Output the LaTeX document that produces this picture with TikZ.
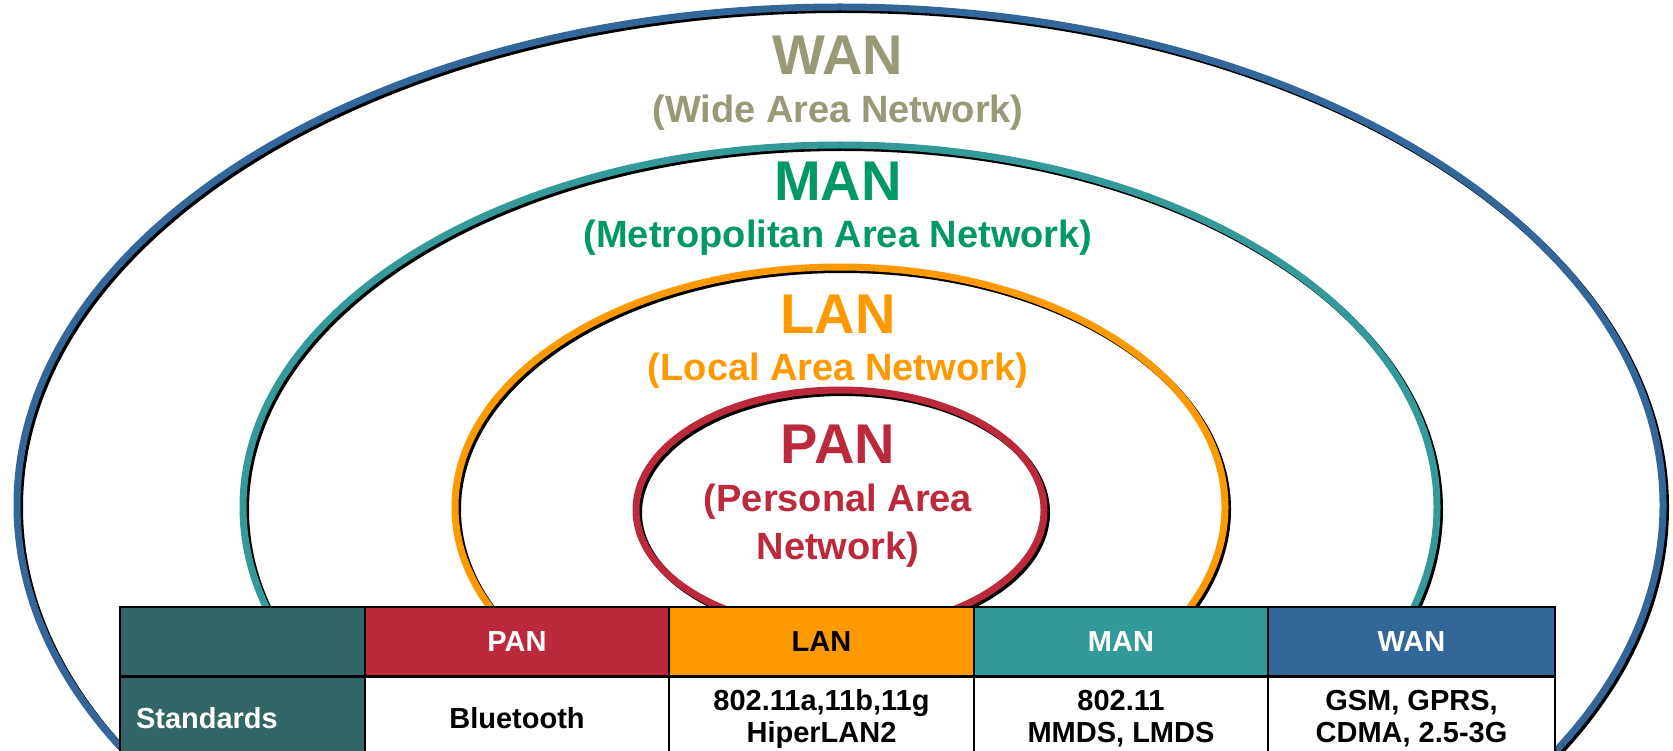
\documentclass[tikz,border=0pt]{standalone}
\usepackage{fontspec}
\setmainfont{Liberation Sans}
\usetikzlibrary{positioning}
\definecolor{wantxt}{RGB}{153,153,119}
\definecolor{mantxt}{RGB}{0,153,102}
\definecolor{lancol}{RGB}{255,153,0}
\definecolor{pancol}{RGB}{187,41,59}
\definecolor{mancol}{RGB}{51,153,153}
\definecolor{wancol}{RGB}{51,102,153}
\definecolor{stdcol}{RGB}{51,102,102}
\begin{document}
\begin{tikzpicture}[x=1pt,y=-1pt,
  cell/.style={draw=black, line width=1.5pt, inner sep=0pt, minimum height=69pt, align=center, font=\fontsize{29}{32}\selectfont\bfseries},
  nettitle/.style={font=\fontsize{56}{60}\selectfont\bfseries},
  netsub/.style={font=\fontsize{38}{48}\selectfont\bfseries, align=center}]
\clip (0,0) rectangle (1673,751);
\fill[white] (0,0) rectangle (1673,751);
% nested areas, black edge first
\foreach \rx/\ry/\cy/\col in {823/498/505/wancol, 597/362/507/mancol, 385/240/507/lancol, 204/120/510/pancol}
{
  \draw[black, line width=7pt] (842.5,\cy+2.5) ellipse [x radius=\rx, y radius=\ry];
  \draw[\col, line width=7pt] (840,\cy) ellipse [x radius=\rx, y radius=\ry];
}
\node[nettitle, text=wantxt] (wan) at (838,55) {WAN};
\node[netsub, text=wantxt] (wansub) at (838,113) {(Wide Area Network)};
\node[nettitle, text=mantxt] (man) at (838,181) {MAN};
\node[netsub, text=mantxt] (mansub) at (838,238) {(Metropolitan Area Network)};
\node[nettitle, text=lancol] (lan) at (838,314) {LAN};
\node[netsub, text=lancol] (lansub) at (838,371) {(Local Area Network)};
\node[nettitle, text=pancol] (pan) at (838,444) {PAN};
\node[netsub, text=pancol] (pansub) at (838,526) {(Personal Area\\Network)};
% table
\node[cell, fill=stdcol, minimum width=245pt] (h0) at (242.5,641.5) {};
\node[cell, fill=pancol, text=white, minimum width=304pt] (hpan) at (517,641.5) {PAN};
\node[cell, fill=lancol, text=black, minimum width=305pt] (hlan) at (821.5,641.5) {LAN};
\node[cell, fill=mancol, text=white, minimum width=294pt] (hman) at (1121,641.5) {MAN};
\node[cell, fill=wancol, text=white, minimum width=287pt] (hwan) at (1411.5,641.5) {WAN};
\node[cell, fill=stdcol, text=white, minimum height=82pt, text width=213pt, inner xsep=16pt, align=left, below=0pt of h0] (sstd) {Standards};
\node[cell, fill=white, minimum width=304pt, minimum height=82pt, below=0pt of hpan] (span) {Bluetooth};
\node[cell, fill=white, minimum width=305pt, minimum height=82pt, below=0pt of hlan] (slan) {802.11a,11b,11g\\HiperLAN2};
\node[cell, fill=white, minimum width=294pt, minimum height=82pt, below=0pt of hman] (sman) {802.11\\MMDS, LMDS};
\node[cell, fill=white, minimum width=287pt, minimum height=82pt, below=0pt of hwan] (swan) {GSM, GPRS,\\CDMA, 2.5-3G};
\end{tikzpicture}
\end{document}
